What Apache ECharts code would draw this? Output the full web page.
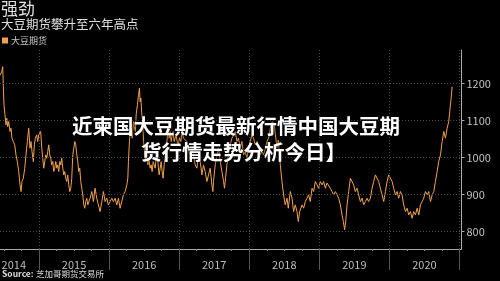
<!DOCTYPE html>
<html>
<head>
<meta charset="utf-8">
<script src="https://cdn.jsdelivr.net/npm/echarts@6/dist/echarts.min.js"></script>
<style>
html,body{margin:0;padding:0;background:#000;}
#chart{width:500px;height:281px;}
</style>
</head>
<body>
<div id="chart"></div>
<script>
// Decimal-year dates and soybean futures prices (US cents / bushel)
const dates = [
2014.443,2014.467,2014.482,2014.490,2014.500,2014.514,2014.529,2014.539,2014.553,2014.567,
2014.586,2014.600,2014.614,2014.633,2014.653,2014.671,2014.690,2014.710,2014.729,2014.743,
2014.757,2014.776,2014.796,2014.814,2014.833,2014.853,2014.862,2014.871,2014.886,2014.900,
2014.919,2014.933,2014.947,2014.967,2014.981,2014.996,2015.010,2015.024,2015.039,2015.053,
2015.067,2015.081,2015.096,2015.110,2015.124,2015.139,2015.153,2015.167,2015.181,2015.196,
2015.210,2015.224,2015.239,2015.253,2015.267,2015.281,2015.296,2015.310,2015.324,2015.339,
2015.353,2015.367,2015.381,2015.396,2015.410,2015.424,2015.439,2015.453,2015.467,2015.482,
2015.496,2015.510,2015.524,2015.539,2015.553,2015.567,2015.581,2015.596,2015.610,2015.624,
2015.639,2015.653,2015.667,2015.681,2015.696,2015.710,2015.729,2015.753,2015.776,2015.800,
2015.824,2015.847,2015.871,2015.896,2015.919,2015.943,2015.967,2015.990,2016.014,2016.039,
2016.061,2016.086,2016.110,2016.133,2016.157,2016.181,2016.204,2016.229,2016.253,2016.267,
2016.276,2016.290,2016.300,2016.314,2016.329,2016.347,2016.361,2016.376,2016.386,2016.404,
2016.419,2016.433,2016.443,2016.453,2016.467,2016.481,2016.490,2016.504,2016.519,2016.539,
2016.553,2016.567,2016.586,2016.600,2016.614,2016.629,2016.643,2016.657,2016.671,2016.686,
2016.700,2016.714,2016.729,2016.743,2016.757,2016.771,2016.786,2016.800,2016.814,2016.829,
2016.843,2016.857,2016.871,2016.886,2016.900,2016.914,2016.929,2016.943,2016.957,2016.971,
2016.986,2017.004,2017.024,2017.039,2017.061,2017.110,2017.133,2017.157,2017.181,2017.204,
2017.229,2017.253,2017.276,2017.300,2017.324,2017.347,2017.371,2017.396,2017.419,2017.443,
2017.467,2017.481,2017.490,2017.514,2017.539,2017.561,2017.586,2017.610,2017.633,2017.647,
2017.661,2017.681,2017.704,2017.729,2017.753,2017.776,2017.800,2017.824,2017.847,2017.871,
2017.896,2017.919,2017.943,2017.967,2017.990,2018.014,2018.039,2018.061,2018.086,2018.110,
2018.133,2018.157,2018.181,2018.204,2018.229,2018.253,2018.276,2018.300,2018.329,2018.357,
2018.396,2018.414,2018.443,2018.467,2018.490,2018.514,2018.539,2018.557,2018.586,2018.610,
2018.633,2018.657,2018.681,2018.700,2018.719,2018.753,2018.776,2018.800,2018.824,2018.847,
2018.871,2018.896,2018.919,2018.943,2018.967,2018.990,2019.014,2019.039,2019.061,2019.086,
2019.110,2019.133,2019.157,2019.181,2019.204,2019.229,2019.253,2019.276,2019.300,2019.324,
2019.343,2019.361,2019.376,2019.396,2019.419,2019.443,2019.467,2019.490,2019.514,2019.539,
2019.561,2019.586,2019.610,2019.633,2019.657,2019.681,2019.704,2019.729,2019.753,2019.776,
2019.800,2019.824,2019.847,2019.871,2019.896,2019.919,2019.943,2019.967,2019.990,2020.014,
2020.039,2020.061,2020.086,2020.110,2020.133,2020.157,2020.181,2020.204,2020.229,2020.253,
2020.276,2020.300,2020.324,2020.347,2020.371,2020.396,2020.419,2020.443,2020.467,2020.490,
2020.514,2020.539,2020.561,2020.586,2020.610,2020.633,2020.657,2020.681,2020.704,2020.729,
2020.753,2020.776,2020.800,2020.824,2020.847,2020.861,2020.881,2020.896
];
const prices = [
1222,1231,1245,1195,1142,1115,1088,1106,1083,1097,
1070,1079,1052,1043,1034,1007,989,962,926,908,
935,944,971,1007,1043,1079,1052,1025,1043,1016,
989,1034,1052,1061,1043,1061,1061,1070,1025,998,
971,989,1007,998,1016,1034,1007,998,980,989,
962,971,989,971,980,962,989,980,998,971,
953,962,944,935,953,926,908,917,944,1007,
1025,1043,1034,1007,989,962,971,935,917,899,
872,863,881,890,872,881,890,908,881,917,
890,872,854,881,908,881,890,872,881,890,
881,890,872,890,863,881,899,908,926,944,
989,1043,1070,1079,1052,1097,1079,1070,1115,1142,
1168,1187,1150,1160,1115,1097,1043,1025,989,1025,
980,998,971,980,962,989,980,971,998,1007,
980,953,971,989,962,944,980,1007,1025,1052,
1079,1052,1070,1043,1061,1070,1043,1052,1061,1043,
1034,1052,1043,1070,1052,1043,1016,1007,1025,1007,
980,971,1007,989,953,980,962,935,953,971,
926,908,935,980,1007,1025,989,962,935,917,
944,980,1007,1034,1052,1061,1070,1043,1052,1025,
1043,1007,1016,998,1025,1043,1061,1052,1034,1043,
1025,1007,1016,1007,1025,1043,1052,1079,1097,1088,
1025,1047,980,935,899,872,890,863,908,890,
854,872,854,827,854,872,863,881,890,899,
881,917,908,935,926,917,935,926,935,917,
931,935,917,908,899,908,899,890,872,845,
827,805,826,872,908,944,935,926,908,917,
899,881,890,872,881,890,881,890,917,935,
953,953,935,917,899,881,908,935,953,953,
935,917,899,908,890,908,899,872,854,863,
845,854,836,854,845,863,845,872,881,890,
908,899,908,881,899,908,935,962,989,1007,
1043,1070,1052,1079,1097,1124,1160,1191
];
const yTicks = [800, 900, 1000, 1100, 1200];
const yearBounds = [2015, 2016, 2017, 2018, 2019, 2020, 2021];
const yearLabelPos = [2014.64, 2015.5, 2016.5, 2017.5, 2018.5, 2019.5, 2020.5];
const quarterTicks = [2014.5, 2014.75, 2015.25, 2015.5, 2015.75, 2016.25, 2016.5, 2016.75,
  2017.25, 2017.5, 2017.75, 2018.25, 2018.5, 2018.75, 2019.25, 2019.5, 2019.75,
  2020.25, 2020.5, 2020.75];
const seriesName = '大豆期货';
const titleMain = '强劲';
const titleSub = '大豆期货攀升至六年高点';
const unitName = '美分/蒲式耳';
const sourceLabel = 'Source:';
const sourceText = '芝加哥期货交易所';
const overlay1 = '近柬国大豆期货最新行情中国大豆期';
const overlay2 = '货行情走势分析今日】';

const xMin = 2014.443, xMax = 2021.029;
const FONT = '"Noto Sans CJK SC", "Noto Sans", sans-serif';

const chart = echarts.init(document.getElementById('chart'), null, {renderer: 'canvas'});
chart.setOption({
  backgroundColor: '#000',
  animation: false,
  textStyle: {fontFamily: FONT},
  legend: {
    left: 2, top: 36, padding: 0,
    icon: 'rect', itemWidth: 6, itemHeight: 6, itemGap: 4,
    textStyle: {color: '#c8c8c8', fontSize: 9, fontFamily: FONT, padding: [0,0,0,-2]},
    data: [seriesName]
  },
  grid: {left: 0, right: 38.5, top: 50, bottom: 32, containLabel: false, outerBoundsMode: 'none'},
  xAxis: [{
    type: 'value', min: xMin, max: xMax,
    axisLine: {show: true, lineStyle: {color: '#aaa', width: 1}},
    axisTick: {show: true, customValues: yearBounds, length: 21, lineStyle: {color: '#555'}},
    axisLabel: {customValues: yearLabelPos, color: '#bdbdbd', fontSize: 11, margin: 10,
      fontFamily: FONT, formatter: v => String(Math.floor(v))},
    splitLine: {show: false}
  }, {
    type: 'value', min: xMin, max: xMax, position: 'bottom',
    axisLine: {show: false},
    axisTick: {show: true, customValues: quarterTicks, length: 2, lineStyle: {color: '#888'}},
    axisLabel: {show: false},
    splitLine: {show: false}
  }],
  yAxis: {
    type: 'value', position: 'right', min: 753, max: 1290,
    name: unitName, nameLocation: 'middle', nameRotate: -90, nameGap: 30,
    nameTextStyle: {color: '#9a9a9a', fontSize: 11, fontFamily: FONT},
    axisLine: {show: true, lineStyle: {color: '#aaa', width: 1}},
    axisTick: {show: true, customValues: yTicks, length: 3, lineStyle: {color: '#aaa'}},
    axisLabel: {customValues: yTicks, color: '#c0c0c0', fontSize: 11, margin: 5, fontFamily: FONT,
      formatter: v => String(v)},
    splitLine: {show: false}
  },
  series: [{
    name: seriesName,
    type: 'line',
    xAxisIndex: 0,
    showSymbol: false,
    symbol: 'none',
    color: '#f2a24c',
    lineStyle: {color: '#f2a24c', width: 1},
    data: dates.map((d, i) => [d, prices[i]]),
    markLine: {
      silent: true, symbol: 'none', label: {show: false},
      lineStyle: {color: '#4a4a4a', type: [1, 2], width: 1},
      data: yearBounds.map(y => ({xAxis: y})).concat(yTicks.map(v => ({yAxis: v})))
    },
    z: 3
  }],
  graphic: [
    {type: 'text', left: 1, top: 0, style: {text: titleMain, fill: '#e0e0e0', font: '17px ' + FONT}},
    {type: 'text', left: 1, top: 18, style: {text: titleSub, fill: '#e0e0e0', font: '12.5px ' + FONT}},
    {type: 'text', left: 2, top: 270, style: {text: sourceLabel, fill: '#dcdcdc', font: 'bold 8.5px ' + FONT}},
    {type: 'text', left: 36, top: 270, style: {text: sourceText, fill: '#dcdcdc', font: '8.5px ' + FONT}},
    {type: 'text', z: 100, style: {text: overlay1, x: 72, y: 126, textVerticalAlign: 'middle',
      fill: '#fff', font: 'bold 20.5px ' + FONT, textShadowColor: 'rgba(0,0,0,0.9)', textShadowBlur: 4}},
    {type: 'text', z: 100, style: {text: overlay2, x: 141, y: 152, textVerticalAlign: 'middle',
      fill: '#fff', font: 'bold 20.5px ' + FONT, textShadowColor: 'rgba(0,0,0,0.9)', textShadowBlur: 4}}
  ]
});
</script>
</body>
</html>
